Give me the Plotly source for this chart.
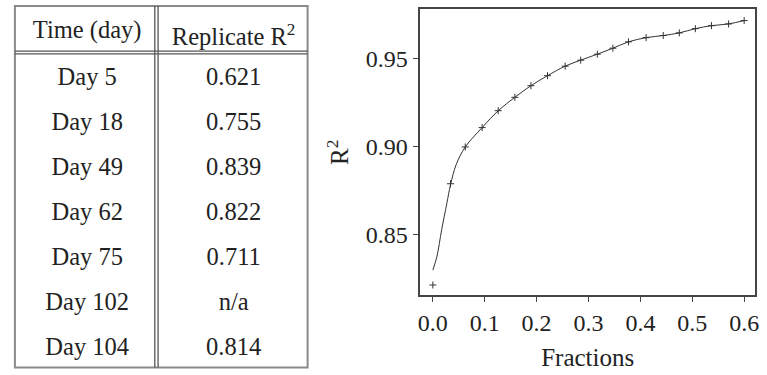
import plotly.graph_objects as go

# ---- table data ----
days = ["Day 5", "Day 18", "Day 49", "Day 62", "Day 75", "Day 102", "Day 104"]
replicate_r2 = ["0.621", "0.755", "0.839", "0.822", "0.711", "n/a", "0.814"]
table_header = ["Time (day)", "Replicate R<sup>2</sup>"]

# ---- chart data ----
fractions = [0.0, 0.034, 0.0625, 0.095, 0.126, 0.158, 0.189, 0.221, 0.255, 0.285,
             0.317, 0.347, 0.377, 0.411, 0.444, 0.475, 0.506, 0.537, 0.570, 0.600]
r2 = [0.8216, 0.8791, 0.9000, 0.9110, 0.9206, 0.9282, 0.9348, 0.9405, 0.9459, 0.9493,
      0.9527, 0.9561, 0.9597, 0.9621, 0.9633, 0.9648, 0.9672, 0.9689, 0.9699, 0.9718]
fit_x = [0.0, 0.008, 0.017, 0.027, 0.034, 0.045, 0.0625, 0.095, 0.126, 0.158, 0.189,
         0.221, 0.255, 0.285, 0.317, 0.347, 0.377, 0.411, 0.444, 0.475, 0.506, 0.537,
         0.570, 0.600]
fit_y = [0.8300, 0.8380, 0.8530, 0.8680, 0.8785, 0.8900, 0.9000, 0.9110, 0.9206, 0.9282,
         0.9348, 0.9405, 0.9459, 0.9493, 0.9527, 0.9561, 0.9597, 0.9621, 0.9633, 0.9648,
         0.9672, 0.9689, 0.9699, 0.9718]

FONT = "Liberation Serif, Times New Roman, serif"
W, H = 767, 375

def px_x(p):
    return p / W

def px_y(p):
    return 1 - p / H

fig = go.Figure()

fig.add_trace(go.Table(
    domain=dict(x=[px_x(12), px_x(308)], y=[0, px_y(12)]),
    columnwidth=[1, 1],
    header=dict(values=table_header, height=46,
                font=dict(family=FONT, size=24.5, color="#222"),
                fill_color="rgba(0,0,0,0)", line=dict(color="rgba(0,0,0,0)", width=0),
                align="center"),
    cells=dict(values=[days, replicate_r2], height=45,
               font=dict(family=FONT, size=24.5, color="#222"),
               fill_color="rgba(0,0,0,0)", line=dict(color="rgba(0,0,0,0)", width=0),
               align="center"),
))

fig.add_trace(go.Scatter(
    x=fit_x, y=fit_y, mode="lines", line=dict(color="#333", width=1, shape="spline"),
    showlegend=False, hoverinfo="skip"))
fig.add_trace(go.Scatter(
    x=fractions, y=r2, mode="markers",
    marker=dict(symbol="cross-thin", size=5, line=dict(color="#333", width=1)),
    showlegend=False))

shapes = []
# table outer border
shapes.append(dict(type="rect", xref="paper", yref="paper", x0=px_x(13), x1=px_x(308),
                   y0=px_y(367.5), y1=px_y(6), line=dict(color="#8a8a8a", width=2)))
# double horizontal line below header
for yy in (51.2, 53.8):
    shapes.append(dict(type="line", xref="paper", yref="paper", x0=px_x(13), x1=px_x(308),
                       y0=px_y(yy), y1=px_y(yy), line=dict(color="#555", width=1.2)))
# double vertical line between columns
for xx in (154, 157.3):
    shapes.append(dict(type="line", xref="paper", yref="paper", x0=px_x(xx), x1=px_x(xx),
                       y0=px_y(367.5), y1=px_y(6), line=dict(color="#555", width=1.3)))

fig.update_layout(
    width=W, height=H, margin=dict(l=0, r=0, t=0, b=0),
    paper_bgcolor="white", plot_bgcolor="white",
    font=dict(family=FONT, size=24, color="#222"),
    shapes=shapes,
    xaxis=dict(domain=[px_x(421.7), px_x(759)], range=[-0.024, 0.621],
               tickvals=[0, 0.1, 0.2, 0.3, 0.4, 0.5, 0.6], ticktext=["0.0", "0.1", "0.2", "0.3", "0.4", "0.5", "0.6"],
               ticks="outside", ticklen=5, tickwidth=1.2, tickcolor="#444",
               showline=True, linecolor="#444", linewidth=1.5, mirror=True,
               showgrid=False, zeroline=False,
               title=dict(text="Fractions", font=dict(family=FONT, size=25), standoff=14)),
    yaxis=dict(domain=[px_y(295), px_y(9.3)], range=[0.8159, 0.9782],
               tickvals=[0.85, 0.90, 0.95], ticktext=["0.85", "0.90", "0.95"],
               ticks="outside", ticklen=6, tickwidth=1.2, tickcolor="#444",
               showline=True, linecolor="#444", linewidth=1.5, mirror=True,
               showgrid=False, zeroline=False,
               title=dict(text="R<sup>2</sup>", font=dict(family=FONT, size=25), standoff=10)),
)

fig.write_html("out.html")
